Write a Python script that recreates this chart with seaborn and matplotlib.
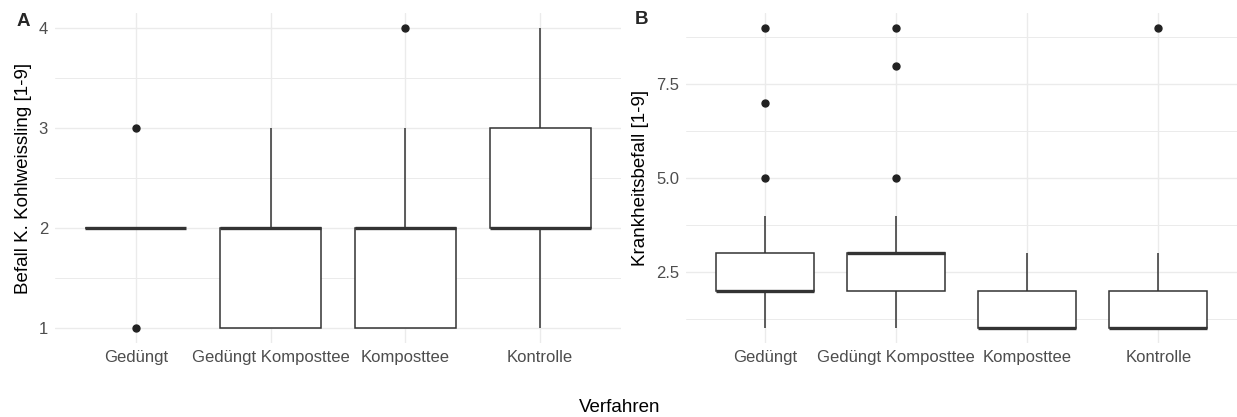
import numpy as np
import pandas as pd
import matplotlib
matplotlib.use("Agg")
import matplotlib.pyplot as plt
from matplotlib.ticker import FixedLocator
import seaborn as sns

# ---- data ----
categories = ["Gedüngt", "Gedüngt Komposttee", "Komposttee", "Kontrolle"]

kohl_geduengt = [1, 2, 2, 2, 2, 2, 2, 2, 2, 3]
kohl_ged_komp = [1, 1, 1, 2, 2, 2, 2, 2, 3]
kohl_komposttee = [1, 1, 1, 1, 2, 2, 2, 2, 2, 2, 3, 4]
kohl_kontrolle = [1, 2, 2, 2, 2, 2, 3, 3, 3, 4]

krank_geduengt = [1, 2, 2, 2, 2, 2, 2, 2, 2, 3, 3, 3, 3, 4, 5, 7, 9]
krank_ged_komp = [1, 2, 2, 2, 2, 2, 2, 3, 3, 3, 3, 3, 3, 3, 3, 3, 4, 5, 8, 9]
krank_komposttee = [1, 1, 1, 1, 1, 1, 2, 2, 2, 3]
krank_kontrolle = [1, 1, 1, 1, 1, 1, 1, 2, 2, 2, 3, 9]

ticks_a = [1, 2, 3, 4]
ticks_b = [2.5, 5.0, 7.5]
tick_labels_b = ["2.5", "5.0", "7.5"]


def long_df(groups, name):
    rows = []
    for cat, vals in zip(categories, groups):
        for v in vals:
            rows.append({"Verfahren": cat, name: v})
    return pd.DataFrame(rows)


df_a = long_df([kohl_geduengt, kohl_ged_komp, kohl_komposttee, kohl_kontrolle], "Kohl")
df_b = long_df([krank_geduengt, krank_ged_komp, krank_komposttee, krank_kontrolle], "Krank")

sns.set_theme(style="white")
plt.rcParams["font.family"] = ["Liberation Sans", "DejaVu Sans"]

W, H = 1237, 417
fig = plt.figure(figsize=(W / 100, H / 100), dpi=100)

ax_a = fig.add_axes([55 / W, 1 - 343 / H, (621 - 55) / W, 330 / H])
ax_b = fig.add_axes([686 / W, 1 - 343 / H, (1237 - 686) / W, 330 / H])

box_kw = dict(
    order=categories,
    width=0.75,
    color="white",
    linecolor="#333333",
    linewidth=1.1,
    whis=1.5,
    showcaps=False,
    medianprops=dict(color="#333333", linewidth=2.4),
    flierprops=dict(marker="o", markerfacecolor="#222222", markeredgecolor="#222222",
                    markersize=5),
)

sns.boxplot(data=df_a, x="Verfahren", y="Kohl", ax=ax_a, **box_kw)
sns.boxplot(data=df_b, x="Verfahren", y="Krank", ax=ax_b, **box_kw)

grid_c = "#EBEBEB"
for ax, lo, hi, ticks, minor in [
    (ax_a, 0.85, 4.15, ticks_a, [1.5, 2.5, 3.5]),
    (ax_b, 0.6, 9.4, ticks_b, [1.25, 3.75, 6.25, 8.75]),
]:
    ax.set_xlim(-0.6, 3.6)
    ax.set_ylim(lo, hi)
    ax.set_yticks(ticks)
    ax.yaxis.set_minor_locator(FixedLocator(minor))
    ax.grid(True, which="major", axis="both", color=grid_c, linewidth=1.0, zorder=0)
    ax.grid(True, which="minor", axis="y", color=grid_c, linewidth=0.7, zorder=0)
    ax.set_axisbelow(True)
    for s in ax.spines.values():
        s.set_visible(False)
    ax.tick_params(axis="both", which="both", length=0, labelsize=12, labelcolor="#4D4D4D")
    ax.tick_params(axis="y", pad=5)
    ax.tick_params(axis="x", pad=5)
    ax.set_xlabel("")

ax_b.set_yticklabels(tick_labels_b)

ax_a.set_ylabel("Befall K. Kohlweissling [1-9]", fontsize=13.5, color="black", labelpad=5)
ax_b.set_ylabel("Krankheitsbefall [1-9]", fontsize=13.5, color="black", labelpad=5)

fig.text(620 / W, 1 - 408 / H, "Verfahren", fontsize=13.5, ha="center", va="center", color="black")
fig.text(23 / W, 1 - 21.5 / H, "A", fontsize=13.5, fontweight="bold", ha="center", va="center")
fig.text(642 / W, 1 - 20 / H, "B", fontsize=13.5, fontweight="bold", ha="center", va="center")

fig.savefig("out.png", dpi=100)
